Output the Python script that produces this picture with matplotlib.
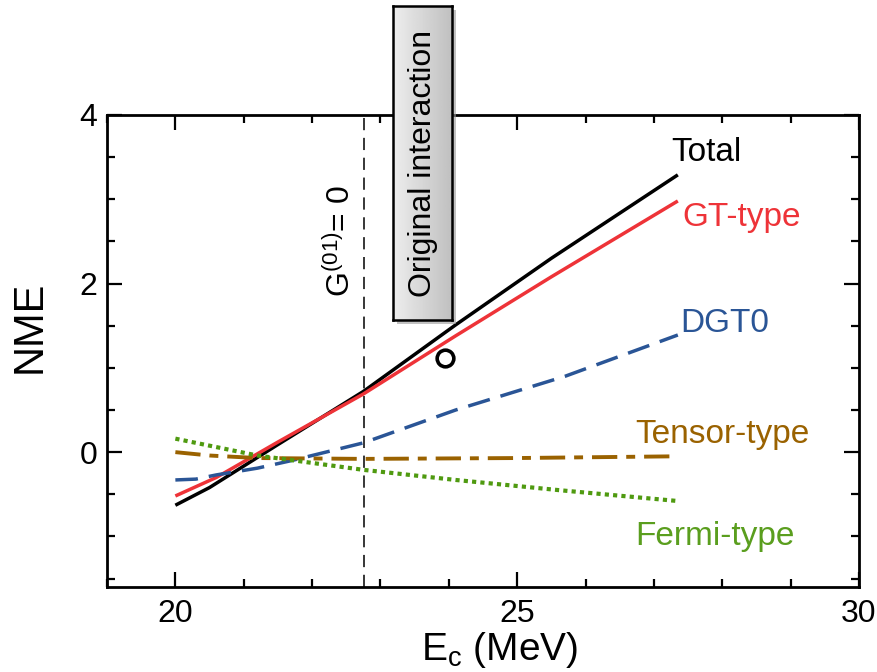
import matplotlib
matplotlib.use("Agg")
import matplotlib.pyplot as plt
import numpy as np
from matplotlib.patches import Rectangle
from matplotlib.ticker import MultipleLocator

plt.rcParams['font.family'] = ['Liberation Sans', 'DejaVu Sans']
plt.rcParams['mathtext.fontset'] = 'custom'
plt.rcParams['mathtext.rm'] = 'Liberation Sans'
plt.rcParams['mathtext.it'] = 'Liberation Sans'

# ---- data ----
x_total = [20.0, 20.5, 21.5, 22.75, 24.1, 25.5, 27.35]
y_total = [-0.63, -0.42, 0.09, 0.72, 1.51, 2.30, 3.29]

x_gt = [20.0, 20.6, 21.5, 22.75, 24.1, 25.5, 27.35]
y_gt = [-0.52, -0.30, 0.12, 0.69, 1.38, 2.08, 2.98]

x_dgt0 = [20.0, 20.3, 20.6, 21.2, 21.7, 22.75, 24.1, 25.7, 27.35]
y_dgt0 = [-0.33, -0.32, -0.27, -0.19, -0.10, 0.11, 0.50, 0.90, 1.39]

x_tensor = [20.0, 20.5, 21.2, 22.75, 25.0, 27.26]
y_tensor = [0.0, -0.04, -0.07, -0.08, -0.07, -0.05]

x_fermi = [20.0, 21.2, 22.75, 24.1, 25.6, 27.35]
y_fermi = [0.16, -0.04, -0.21, -0.33, -0.45, -0.58]

original_point_x = [23.94]
original_point_y = [1.12]

g01_zero_x = 22.76

x_ticks = [20, 25, 30]
y_ticks = [0, 2, 4]

# ---- figure ----
W, H = 877, 672
fig = plt.figure(figsize=(8.77, 6.72), dpi=100)
L, R, T, B = 107, 859, 115, 587
ax = fig.add_axes([L/W, 1-B/H, (R-L)/W, (B-T)/H])

c_total = 'black'
c_gt = '#ee3338'
c_dgt = '#2a5596'
c_tensor = '#9a6200'
c_fermi = '#4f9a10'

ax.plot(x_total, y_total, color=c_total, lw=2.5, solid_capstyle='butt')
ax.plot(x_gt, y_gt, color=c_gt, lw=2.5, solid_capstyle='butt')
ax.plot(x_dgt0, y_dgt0, color=c_dgt, lw=2.5, dashes=(6.5, 3.2))
ax.plot(x_tensor, y_tensor, color=c_tensor, lw=2.8, dashes=(6.5, 2.3, 2.3, 2.3))
ax.plot(x_fermi, y_fermi, color=c_fermi, lw=3.0, dashes=(1.0, 1.0))

ax.plot(original_point_x, original_point_y, 'o', ms=12, mfc='white',
        mec='black', mew=2.6)

ax.axvline(g01_zero_x, color='black', lw=1.1, dashes=(8, 5))

# series labels
fs = 24
ax.text(27.26, 3.55, 'Total', color=c_total, fontsize=fs, ha='left', va='center')
ax.text(27.41, 2.78, 'GT-type', color=c_gt, fontsize=fs, ha='left', va='center')
ax.text(27.39, 1.53, 'DGT0', color=c_dgt, fontsize=fs, ha='left', va='center')
ax.text(26.72, 0.21, 'Tensor-type', color=c_tensor, fontsize=fs, ha='left', va='center')
ax.text(26.72, -1.0, 'Fermi-type', color='#5a9e1e', fontsize=fs, ha='left', va='center')

ax.text(22.43, 2.5, r'G$^{(01)}$= 0', rotation=90, fontsize=23,
        ha='center', va='center')

# axes styling
ax.set_xlim(19, 30)
ax.set_ylim(-1.6, 4)
ax.set_xticks(x_ticks)
ax.set_yticks(y_ticks)
ax.xaxis.set_minor_locator(MultipleLocator(1))
ax.yaxis.set_minor_locator(MultipleLocator(0.5))
ax.tick_params(which='both', direction='in', top=True, right=True,
               width=1.6, labelsize=23)
ax.tick_params(which='major', length=11)
ax.tick_params(which='minor', length=6)
ax.tick_params(axis='x', which='major', pad=9)
ax.tick_params(axis='y', which='major', pad=7)
for s in ax.spines.values():
    s.set_linewidth(2)

ax.set_xlabel(r'$\mathregular{E_c}$ (MeV)', fontsize=28)
ax.xaxis.set_label_coords((500-L)/(R-L), -(650-B)/(B-T), transform=ax.transAxes)
ax.xaxis.label.set_va('center')
ax.set_ylabel('NME', fontsize=30)
ax.yaxis.set_label_coords(-(L-30)/(R-L), (B-327)/(B-T))
ax.yaxis.label.set_va('center')

# "Original interaction" box with gradient and shadow (figure coordinates)
bx0, bx1, by0, by1 = 393, 452, 6, 320
shadow = Rectangle(((bx0+4)/W, 1-(by1+4)/H), (bx1-bx0)/W, (by1-by0)/H,
                   transform=fig.transFigure, facecolor='#9a9a9a',
                   edgecolor='none', alpha=0.6, zorder=5)
fig.patches.append(shadow)
bax = fig.add_axes([bx0/W, 1-by1/H, (bx1-bx0)/W, (by1-by0)/H], zorder=6)
grad = np.linspace(0.93, 0.75, 64).reshape(1, -1)
bax.imshow(grad, aspect='auto', cmap='gray', vmin=0, vmax=1,
           extent=[0, 1, 0, 1])
bax.set_xticks([])
bax.set_yticks([])
for s in bax.spines.values():
    s.set_linewidth(1.8)
    s.set_color('black')
bax.text(0.5, 0.5, 'Original interaction', rotation=90, fontsize=23,
         ha='center', va='center', transform=bax.transAxes)

fig.savefig('out.png', dpi=100)
